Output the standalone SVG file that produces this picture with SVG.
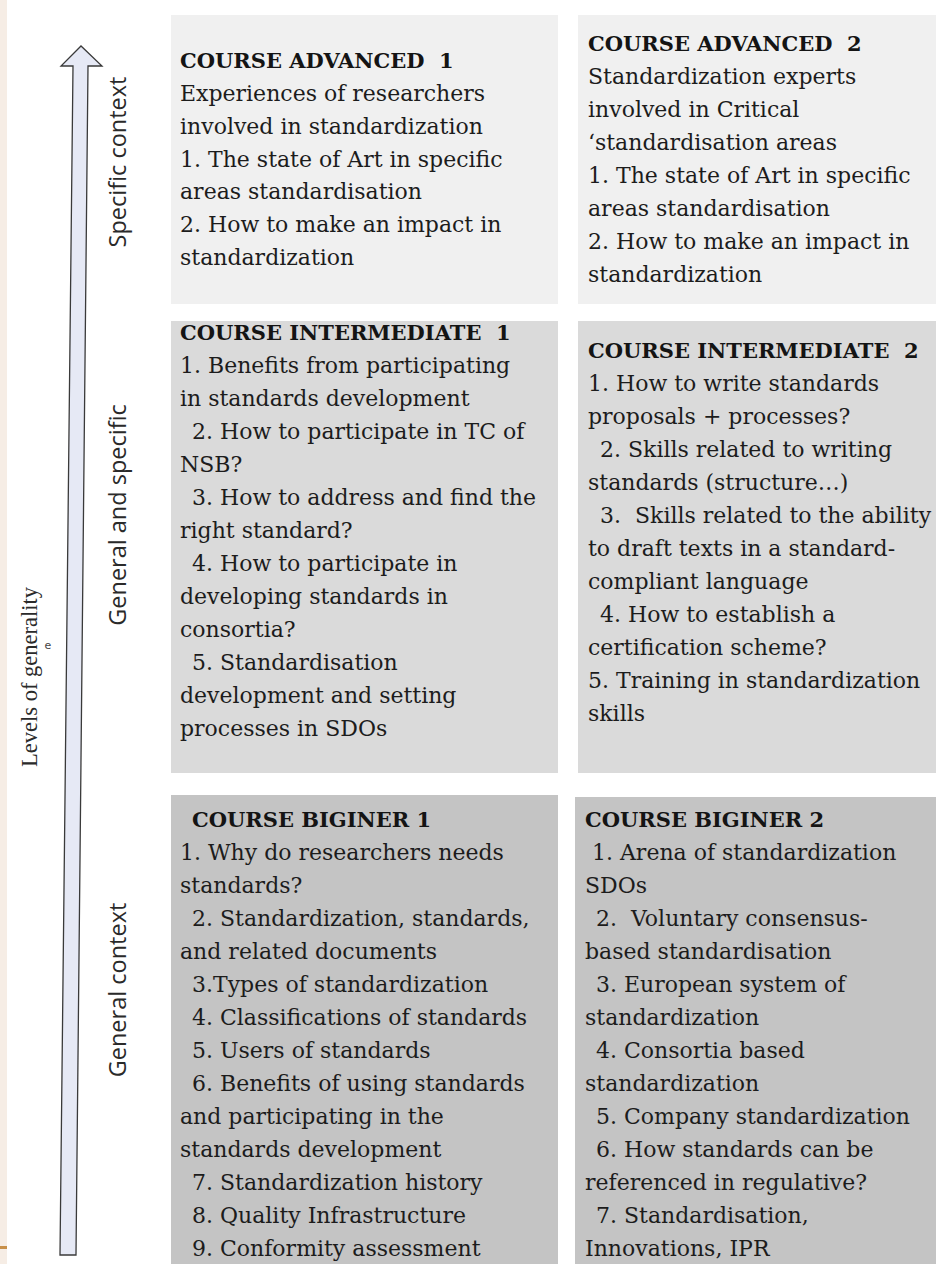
<svg xmlns="http://www.w3.org/2000/svg" width="936" height="1264" viewBox="0 0 936 1264">
<style>
.t{font-family:"DejaVu Serif","Liberation Serif",serif;font-size:22px;fill:#1c1c1c}
.h{font-weight:bold;font-size:21px;fill:#141414}
.lab{font-family:"Open Sans","Liberation Sans",sans-serif;font-size:23.5px;fill:#2a2a2a;text-anchor:middle}
.adv{fill:#f0f0f0}
.int{fill:#dadada}
.beg{fill:#c4c4c4}
</style>
<rect x="0" y="0" width="936" height="1264" fill="#ffffff"/>
<rect x="0" y="0" width="7" height="1264" fill="#f6ede5"/>
<rect x="0" y="1246" width="7" height="3" fill="#c8904a"/>

<g id="connectors">
<polygon points="73,66 61,66 81,46 102,66 88,66 76,1255 60,1255" fill="#e6e9f5" stroke="#3a3a3a" stroke-width="1.3" stroke-linejoin="miter"/>
</g>

<g id="axis-labels">
<text style="font-family:'Liberation Serif',serif;font-size:22.5px;fill:#2a2a2a" text-anchor="middle" transform="translate(37,677) rotate(-90)">Levels of generality</text>
<text style="font-family:'DejaVu Sans',sans-serif;font-size:11px;fill:#444" x="48" y="649" text-anchor="middle">e</text>
<text class="lab" transform="translate(126,162) rotate(-90)">Specific context</text>
<text class="lab" transform="translate(126,515) rotate(-90)">General and specific</text>
<text class="lab" transform="translate(126,990) rotate(-90)">General context</text>
</g>

<g id="advanced1">
<rect class="adv" x="171" y="15" width="387" height="289"/>
<text class="t h" x="180" y="68" xml:space="preserve">COURSE ADVANCED  1</text>
<text class="t" x="180" y="101">Experiences of researchers</text>
<text class="t" x="180" y="134">involved in standardization</text>
<text class="t" x="180" y="167">1. The state of Art in specific</text>
<text class="t" x="180" y="199">areas standardisation</text>
<text class="t" x="180" y="232">2. How to make an impact in</text>
<text class="t" x="180" y="265">standardization</text>
</g>

<g id="advanced2">
<rect class="adv" x="578" y="15" width="358" height="289"/>
<text class="t h" x="588" y="51" xml:space="preserve">COURSE ADVANCED  2</text>
<text class="t" x="588" y="84">Standardization experts</text>
<text class="t" x="588" y="117">involved in Critical</text>
<text class="t" x="588" y="150">‘standardisation areas</text>
<text class="t" x="588" y="183">1. The state of Art in specific</text>
<text class="t" x="588" y="216">areas standardisation</text>
<text class="t" x="588" y="249">2. How to make an impact in</text>
<text class="t" x="588" y="282">standardization</text>
</g>

<g id="intermediate1">
<rect class="int" x="171" y="321" width="387" height="452"/>
<text class="t h" x="180" y="340" xml:space="preserve">COURSE INTERMEDIATE  1</text>
<text class="t" x="180" y="373">1. Benefits from participating</text>
<text class="t" x="180" y="406">in standards development</text>
<text class="t" x="192" y="439">2. How to participate in TC of</text>
<text class="t" x="180" y="472">NSB?</text>
<text class="t" x="192" y="505">3. How to address and find the</text>
<text class="t" x="180" y="538">right standard?</text>
<text class="t" x="192" y="571">4. How to participate in</text>
<text class="t" x="180" y="604">developing standards in</text>
<text class="t" x="180" y="637">consortia?</text>
<text class="t" x="192" y="670">5. Standardisation</text>
<text class="t" x="180" y="703">development and setting</text>
<text class="t" x="180" y="736">processes in SDOs</text>
</g>

<g id="intermediate2">
<rect class="int" x="578" y="321" width="358" height="452"/>
<text class="t h" x="588" y="358" xml:space="preserve">COURSE INTERMEDIATE  2</text>
<text class="t" x="588" y="391">1. How to write standards</text>
<text class="t" x="588" y="424">proposals + processes?</text>
<text class="t" x="600" y="457">2. Skills related to writing</text>
<text class="t" x="588" y="490">standards (structure…)</text>
<text class="t" x="600" y="523" xml:space="preserve">3.  Skills related to the ability</text>
<text class="t" x="588" y="556">to draft texts in a standard-</text>
<text class="t" x="588" y="589">compliant language</text>
<text class="t" x="600" y="622">4. How to establish a</text>
<text class="t" x="588" y="655">certification scheme?</text>
<text class="t" x="588" y="688">5. Training in standardization</text>
<text class="t" x="588" y="721">skills</text>
</g>

<g id="beginner1">
<rect class="beg" x="171" y="795" width="387" height="469"/>
<text class="t h" x="192" y="827">COURSE BIGINER 1</text>
<text class="t" x="180" y="860">1. Why do researchers needs</text>
<text class="t" x="180" y="893">standards?</text>
<text class="t" x="192" y="926">2. Standardization, standards,</text>
<text class="t" x="180" y="959">and related documents</text>
<text class="t" x="192" y="992">3.Types of standardization</text>
<text class="t" x="192" y="1025">4. Classifications of standards</text>
<text class="t" x="192" y="1058">5. Users of standards</text>
<text class="t" x="192" y="1091">6. Benefits of using standards</text>
<text class="t" x="180" y="1124">and participating in the</text>
<text class="t" x="180" y="1157">standards development</text>
<text class="t" x="192" y="1190">7. Standardization history</text>
<text class="t" x="192" y="1223">8. Quality Infrastructure</text>
<text class="t" x="192" y="1256">9. Conformity assessment</text>
</g>

<g id="beginner2">
<rect class="beg" x="575" y="797" width="361" height="467"/>
<text class="t h" x="585" y="827">COURSE BIGINER 2</text>
<text class="t" x="592" y="860">1. Arena of standardization</text>
<text class="t" x="585" y="893">SDOs</text>
<text class="t" x="596" y="926" xml:space="preserve">2.  Voluntary consensus-</text>
<text class="t" x="585" y="959">based standardisation</text>
<text class="t" x="596" y="992">3. European system of</text>
<text class="t" x="585" y="1025">standardization</text>
<text class="t" x="596" y="1058">4. Consortia based</text>
<text class="t" x="585" y="1091">standardization</text>
<text class="t" x="596" y="1124">5. Company standardization</text>
<text class="t" x="596" y="1157">6. How standards can be</text>
<text class="t" x="585" y="1190">referenced in regulative?</text>
<text class="t" x="596" y="1223">7. Standardisation,</text>
<text class="t" x="585" y="1256">Innovations, IPR</text>
</g>
</svg>
